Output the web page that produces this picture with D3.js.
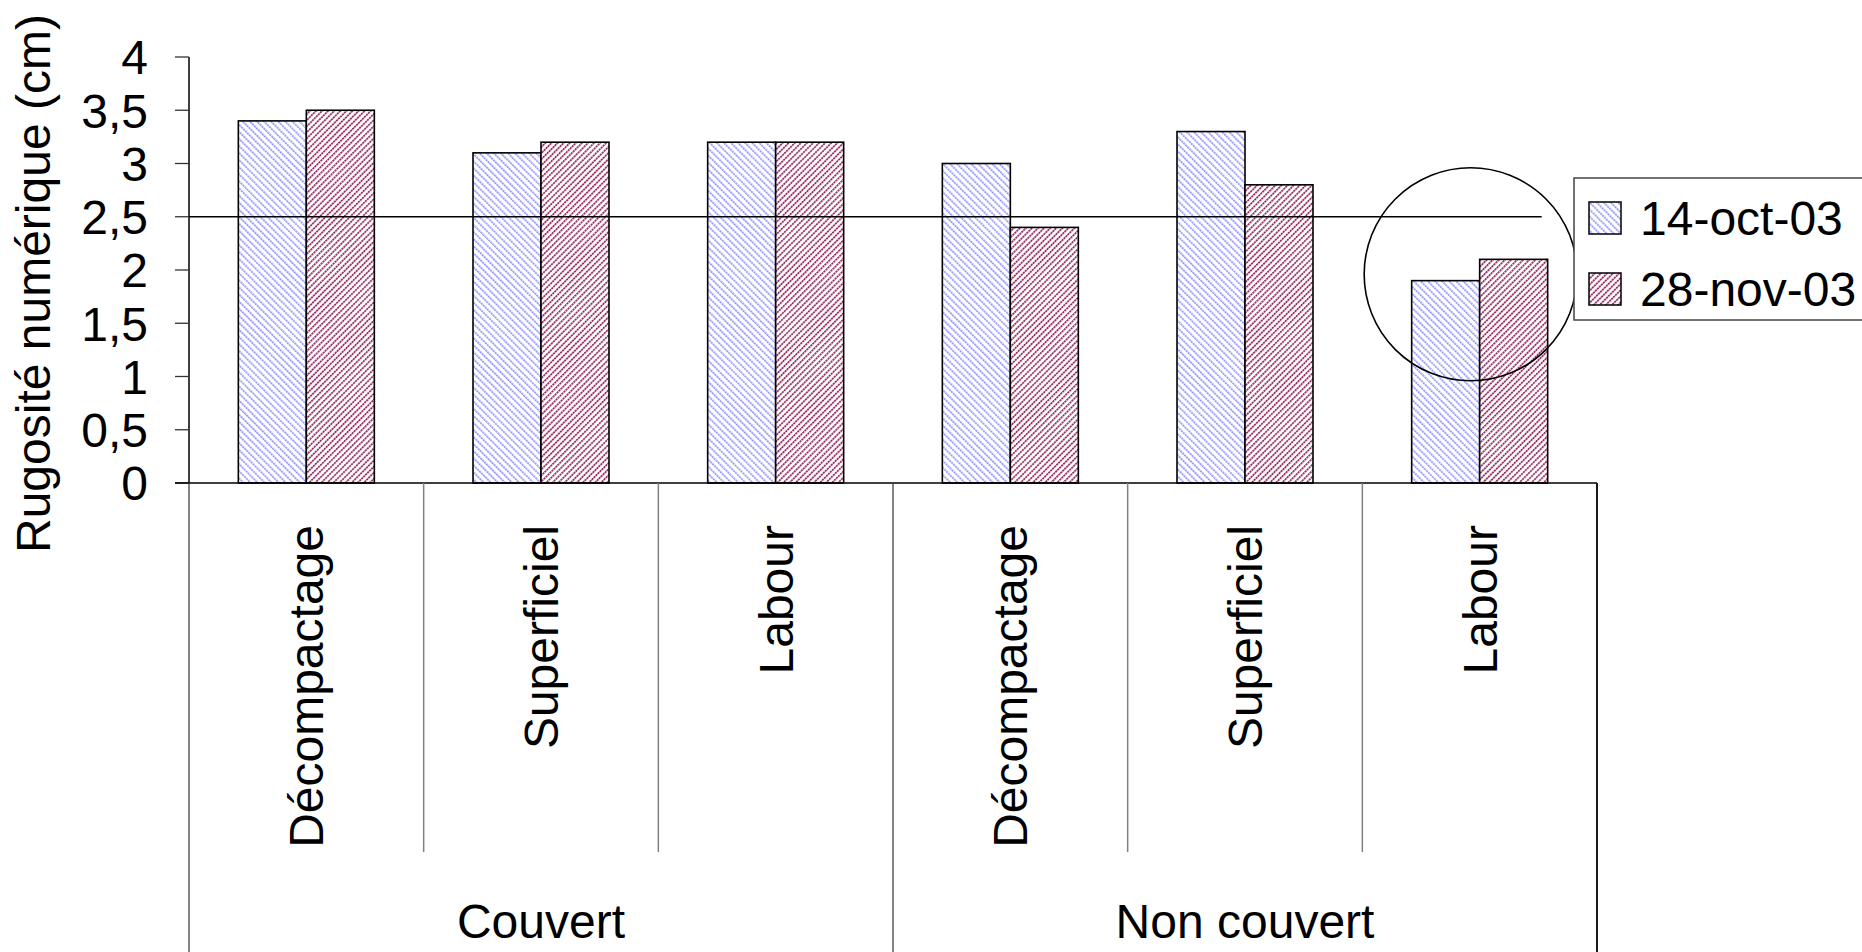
<!DOCTYPE html>
<html>
<head>
<meta charset="utf-8">
<script src="https://cdn.jsdelivr.net/npm/d3@7/dist/d3.min.js"></script>
<style>
  html, body { margin: 0; padding: 0; background: #fff; }
  svg { display: block; }
  text { font-family: "Liberation Sans", Arial, Helvetica, sans-serif; fill: #000; }
</style>
</head>
<body>
<svg id="chart" width="1862" height="952"></svg>
<script>
// Soil roughness per tillage practice, cover condition and survey date
const groups = ["Couvert", "Non couvert"];
const practices = ["Décompactage", "Superficiel", "Labour"];
const seriesNames = ["14-oct-03", "28-nov-03"];
const oct14 = [3.4, 3.1, 3.2, 3.0, 3.3, 1.9];
const nov28 = [3.5, 3.2, 3.2, 2.4, 2.8, 2.1];
const yTicks = [0, 0.5, 1, 1.5, 2, 2.5, 3, 3.5, 4];
const thresholdValue = 2.5;
// highlighted zone around the last pair of bars (category index, centre value, radius in cm)
const highlight = { index: 5, value: 1.96, radius: 1.0 };

const W = 1862, H = 952;
const plot = { left: 189, right: 1597, top: 57, bottom: 483 };
const FONT = 48;

const svg = d3.select("#chart");

// one band per (group, practice) pair
const cells = [];
groups.forEach((g, gi) => practices.forEach((p, pi) => {
  const i = gi * practices.length + pi;
  cells.push({ key: g + "|" + p, group: g, practice: p, values: [oct14[i], nov28[i]] });
}));

const x = d3.scaleBand().domain(cells.map(d => d.key)).range([plot.left, plot.right]).padding(0);
const xs = d3.scaleBand().domain(seriesNames).range([0, x.bandwidth()]).paddingInner(0).paddingOuter(0.7256);
const y = d3.scaleLinear().domain([0, 4]).range([plot.bottom, plot.top]);

// hatch fills: finely broken diagonal stripes
const defs = svg.append("defs");
function hatch(id, color, angle, spacing, width, dash, gap) {
  const p = defs.append("pattern")
    .attr("id", id)
    .attr("patternUnits", "userSpaceOnUse")
    .attr("width", spacing).attr("height", dash + gap)
    .attr("patternTransform", `rotate(${angle})`);
  p.append("rect").attr("width", spacing).attr("height", dash + gap).attr("fill", "#fff");
  p.append("rect").attr("x", 0).attr("y", 0).attr("width", width).attr("height", dash).attr("fill", color);
}
hatch("hatchBlue", "#8f8fff", -45, 5.0, 1.6, 2.2, 0.6);
hatch("hatchPlum", "#993366", 45, 4.3, 1.8, 2.2, 0.6);
const fills = ["url(#hatchBlue)", "url(#hatchPlum)"];

// y axis
const yAxis = svg.append("g");
yAxis.append("line")
  .attr("x1", plot.left).attr("x2", plot.left)
  .attr("y1", y(4)).attr("y2", y(0))
  .attr("stroke", "#000").attr("stroke-width", 1.5);
yAxis.selectAll("line.tick").data(yTicks).join("line")
  .attr("class", "tick")
  .attr("x1", plot.left - 14).attr("x2", plot.left)
  .attr("y1", d => y(d)).attr("y2", d => y(d))
  .attr("stroke", "#333").attr("stroke-width", 1.3);
yAxis.selectAll("text").data(yTicks).join("text")
  .attr("x", 148).attr("y", d => y(d))
  .attr("dy", "0.36em")
  .attr("text-anchor", "end")
  .attr("font-size", FONT)
  .text(d => String(d).replace(".", ","));

svg.append("text")
  .attr("transform", `translate(50,553) rotate(-90)`)
  .attr("text-anchor", "start")
  .attr("font-size", FONT)
  .text("Rugosité numérique (cm)");

// bars
const barG = svg.append("g");
cells.forEach(c => {
  c.values.forEach((v, si) => {
    barG.append("rect")
      .attr("x", x(c.key) + xs(seriesNames[si]))
      .attr("y", y(v))
      .attr("width", xs.bandwidth())
      .attr("height", y(0) - y(v))
      .attr("fill", fills[si])
      .attr("stroke", "#000")
      .attr("stroke-width", 1.6);
  });
});

// threshold line
const lastCell = cells[cells.length - 1];
svg.append("line")
  .attr("x1", plot.left)
  .attr("x2", x(lastCell.key) + xs(seriesNames[1]) + xs.bandwidth() - 6)
  .attr("y1", y(thresholdValue)).attr("y2", y(thresholdValue))
  .attr("stroke", "#000").attr("stroke-width", 1.5);

// x axis with two-level category labels
svg.append("line")
  .attr("x1", plot.left - 14).attr("x2", plot.right)
  .attr("y1", y(0)).attr("y2", y(0))
  .attr("stroke", "#000").attr("stroke-width", 1.5);

const innerBounds = cells.slice(1).map(c => x(c.key)).filter((d, i) => (i + 1) % practices.length !== 0);
svg.selectAll("line.sep").data(innerBounds).join("line")
  .attr("class", "sep")
  .attr("x1", d => d).attr("x2", d => d)
  .attr("y1", y(0)).attr("y2", 852)
  .attr("stroke", "#808080").attr("stroke-width", 1.5);

const groupBounds = [plot.left, x(cells[practices.length].key), plot.right];
svg.selectAll("line.gsep").data(groupBounds).join("line")
  .attr("class", "gsep")
  .attr("x1", d => d).attr("x2", d => d)
  .attr("y1", y(0)).attr("y2", H)
  .attr("stroke", (d, i) => i === 2 ? "#000" : "#333")
  .attr("stroke-width", (d, i) => i === 2 ? 1.8 : 1.2);

svg.selectAll("text.cat").data(cells).join("text")
  .attr("class", "cat")
  .attr("transform", d => `translate(${x(d.key) + x.bandwidth() / 2 + 17},525) rotate(-90)`)
  .attr("text-anchor", "end")
  .attr("font-size", FONT)
  .text(d => d.practice);

svg.selectAll("text.grp").data(groups).join("text")
  .attr("class", "grp")
  .attr("x", (d, i) => (groupBounds[i] + groupBounds[i + 1]) / 2)
  .attr("y", 938)
  .attr("text-anchor", "middle")
  .attr("font-size", FONT)
  .text(d => d);

// highlight circle
const hc = cells[highlight.index];
svg.append("circle")
  .attr("cx", x(hc.key) + x.bandwidth() / 2 - 9)
  .attr("cy", y(highlight.value))
  .attr("r", y(0) - y(highlight.radius))
  .attr("fill", "none")
  .attr("stroke", "#000").attr("stroke-width", 1.6);

// legend
const lg = svg.append("g");
lg.append("rect")
  .attr("x", 1574).attr("y", 178).attr("width", 300).attr("height", 142)
  .attr("fill", "#fff").attr("stroke", "#444").attr("stroke-width", 1.5);
seriesNames.forEach((s, i) => {
  lg.append("rect")
    .attr("x", 1589).attr("y", 202 + i * 71).attr("width", 32).attr("height", 32)
    .attr("fill", fills[i]).attr("stroke", "#000").attr("stroke-width", 1.5);
  lg.append("text")
    .attr("x", 1640).attr("y", 235 + i * 71)
    .attr("font-size", FONT)
    .text(s);
});
</script>
</body>
</html>
